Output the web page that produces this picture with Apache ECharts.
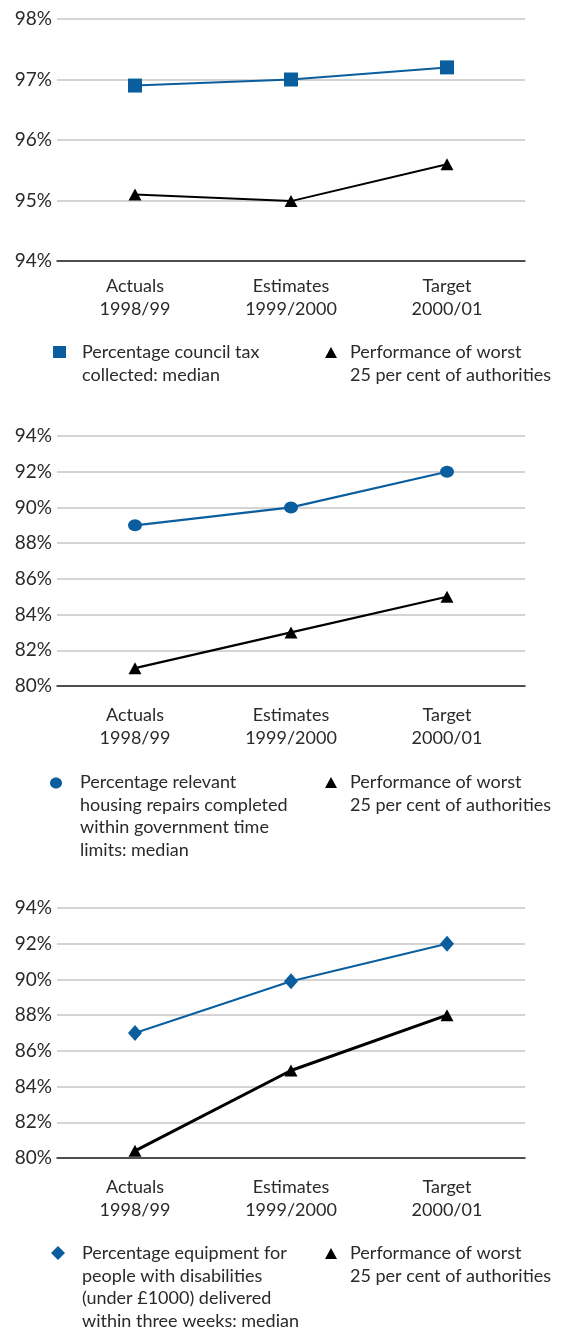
<!DOCTYPE html>
<html>
<head>
<meta charset="utf-8">
<script src="https://cdn.jsdelivr.net/npm/echarts@6/dist/echarts.min.js"></script>
<style>
html,body{margin:0;padding:0;background:#fff;}
#c{width:561px;height:1331px;}
</style>
</head>
<body>
<div id="c"></div>
<script>
const categories = ['Actuals\n1998/99', 'Estimates\n1999/2000', 'Target\n2000/01'];

const taxMedian = [96.9, 97.0, 97.2];
const taxWorst = [95.1, 94.99, 95.6];
const repairsMedian = [89.0, 90.0, 92.0];
const repairsWorst = [81.0, 83.0, 85.0];
const equipMedian = [87.0, 89.9, 92.0];
const equipWorst = [80.4, 84.9, 88.0];

const axis1 = { min: 94, max: 98, interval: 1 };
const axis2 = { min: 80, max: 94, interval: 2 };
const axis3 = { min: 80, max: 94, interval: 2 };

const legend1Median = 'Percentage council tax\ncollected: median';
const legend2Median = 'Percentage relevant\nhousing repairs completed\nwithin government time\nlimits: median';
const legend3Median = 'Percentage equipment for\npeople with disabilities\n(under £1000) delivered\nwithin three weeks: median';
const legendWorst = 'Performance of worst\n25 per cent of authorities';

const FONT = 'Lato';
const FS = 18;
const TXT = '#2a2a2a';
const BLUE = '#0a5e9e';

const chart = echarts.init(document.getElementById('c'), null, { renderer: 'canvas' });

const grids = [
  { left: 57, right: 36, top: 19, height: 242 },
  { left: 57, right: 36, top: 436, height: 250 },
  { left: 57, right: 36, top: 908, height: 250 }
];

function xAxis(i, margin) {
  return {
    type: 'category', gridIndex: i, data: categories, boundaryGap: true,
    axisLine: { lineStyle: { color: '#222', width: 1.5 } },
    axisTick: { alignWithLabel: true, length: 6, lineStyle: { color: '#222', width: 1.2 } },
    axisLabel: { color: TXT, fontFamily: FONT, fontSize: FS, lineHeight: 23, margin }
  };
}
function yAxis(i, a) {
  return {
    type: 'value', gridIndex: i, min: a.min, max: a.max, interval: a.interval,
    axisLine: { show: false }, axisTick: { show: false },
    splitLine: { lineStyle: { color: '#c6c6c6', width: 1.5 } },
    axisLabel: { color: TXT, fontFamily: FONT, fontSize: 19, margin: 5, formatter: '{value}%' }
  };
}
function line(name, i, data, color, symbol, size, width) {
  return {
    name, type: 'line', xAxisIndex: i, yAxisIndex: i, data,
    symbol, symbolSize: size, showSymbol: true,
    lineStyle: { color, width }, itemStyle: { color },
    z: 3, animation: false
  };
}

const triPath = 'path://M0,10 L5,0 L10,10 Z';

function legendText(x, y, text) {
  return { type: 'text', x, y, style: { text, fill: TXT, font: FS + 'px ' + FONT, lineHeight: 22.5, verticalAlign: 'top' } };
}

const graphics = [
  { type: 'rect', shape: { x: 53, y: 346, width: 13, height: 12 }, style: { fill: BLUE } },
  legendText(82, 341, legend1Median),
  { type: 'polygon', shape: { points: [[325, 358], [331, 347], [337, 358]] }, style: { fill: '#000' } },
  legendText(350, 341, legendWorst),
  { type: 'ellipse', shape: { cx: 56, cy: 783, rx: 6, ry: 5.5 }, style: { fill: BLUE } },
  legendText(80, 771, legend2Median),
  { type: 'polygon', shape: { points: [[325, 788], [331, 777], [337, 788]] }, style: { fill: '#000' } },
  legendText(350, 771, legendWorst),
  { type: 'polygon', shape: { points: [[58, 1246], [65, 1253], [58, 1260], [51, 1253]] }, style: { fill: BLUE } },
  legendText(82, 1242, legend3Median),
  { type: 'polygon', shape: { points: [[325, 1259], [331, 1248], [337, 1259]] }, style: { fill: '#000' } },
  legendText(350, 1242, legendWorst)
];

chart.setOption({
  animation: false,
  backgroundColor: '#fff',
  grid: grids,
  xAxis: [xAxis(0, 14), xAxis(1, 18), xAxis(2, 18)],
  yAxis: [yAxis(0, axis1), yAxis(1, axis2), yAxis(2, axis3)],
  series: [
    line('Percentage council tax collected: median', 0, taxMedian, BLUE, 'rect', 14, 2),
    line('Performance of worst 25 per cent of authorities (tax)', 0, taxWorst, '#000', triPath, [13, 12], 2),
    line('Percentage relevant housing repairs completed within government time limits: median', 1, repairsMedian, BLUE, 'circle', [14, 12], 2.2),
    line('Performance of worst 25 per cent of authorities (repairs)', 1, repairsWorst, '#000', triPath, [13, 12], 2.2),
    line('Percentage equipment for people with disabilities delivered within three weeks: median', 2, equipMedian, BLUE, 'diamond', [14, 16], 2),
    line('Performance of worst 25 per cent of authorities (equipment)', 2, equipWorst, '#000', triPath, [13, 12], 3)
  ],
  graphic: graphics
});
</script>
</body>
</html>
